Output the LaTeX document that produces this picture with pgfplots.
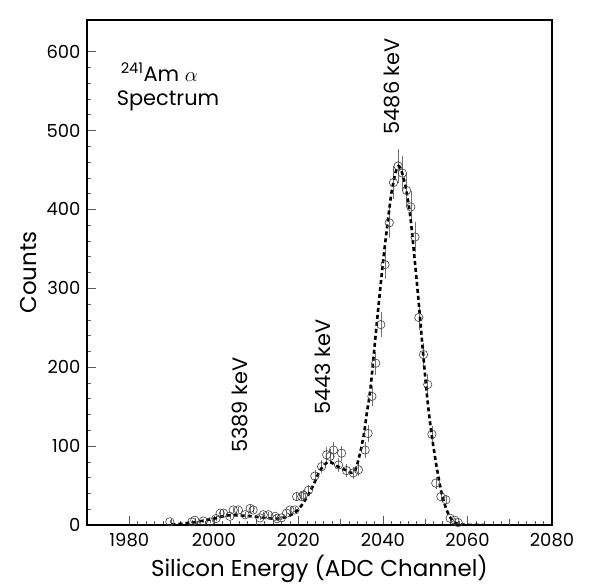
\documentclass[border=0pt]{standalone}
\usepackage{fontspec}
\setmainfont{Poppins}
\usepackage{pgfplots}
\pgfplotsset{compat=1.18}
\usepackage{pgfplotstable}

% measured points: channel, counts, sqrt(counts)
\pgfplotstableread{
x y e
1989.6 4 2.0
1994.8 4 2.0
1995.5 6 2.4
1997.5 5 2.2
1999.1 4 2.0
2000.5 8 2.8
2001.5 15 3.9
2002.3 15 3.9
2003.8 11 3.3
2004.6 19 4.4
2005.8 19 4.4
2007.4 13 3.6
2008.6 21 4.6
2009.3 19 4.4
2010.9 9 3.0
2011.7 13 3.6
2012.9 13 3.6
2014.5 11 3.3
2014.9 8 2.8
2016.0 9 3.0
2017.2 15 3.9
2018.0 19 4.4
2019.2 19 4.4
2019.6 36 6.0
2020.8 36 6.0
2021.2 38 6.2
2022.4 44 6.6
2023.9 62 7.9
2025.5 74 8.6
2026.7 89 9.4
2027.5 87 9.3
2028.3 95 9.7
2029.5 76 8.7
2030.2 91 9.5
2031.4 69 8.3
2033.0 66 8.1
2034.2 70 8.4
2035.8 95 9.7
2036.5 116 10.8
2037.4 163 12.8
2038.3 205 14.3
2039.5 254 15.9
2040.5 330 18.2
2041.5 383 19.6
2042.5 434 20.8
2043.6 455 21.3
2044.6 446 21.1
2045.6 424 20.6
2046.6 403 20.1
2047.6 365 19.1
2048.5 263 16.2
2049.6 216 14.7
2050.6 178 13.3
2051.6 115 10.7
2052.5 53 7.3
2053.7 36 6.0
2054.9 32 5.7
2055.9 8.5 2.9
2057.0 6 2.4
2057.8 3 1.7
}\datapts

% fitted line
\pgfplotstableread{
x y
1990 0.5
1993 2
1996 4
2000 8
2003 12
2006 12
2009 11
2012 9
2015 8
2017 10
2019 15
2020.5 23
2022 35
2023.5 50
2025 68
2026.5 78
2027.5 80
2029 75
2031 70
2032.5 66
2033.5 70
2034.6 91
2035.5 115
2036.2 142
2037 170
2038 225
2039 280
2040 332
2041 378
2042 420
2043 447
2043.7 455
2044.5 447
2045.5 425
2046.5 390
2047.5 337
2048.5 280
2049.5 218
2050.5 160
2051.5 116
2052.7 74
2053.9 40
2055 20
2056 9
2057 3
2058 1
2060 0
2064 0
}\fitcurve

\begin{document}
\begin{tikzpicture}
\begin{axis}[name=ax, scale only axis, width=465bp, height=505bp,
  xmin=1970, xmax=2080, ymin=0, ymax=640,
  xtick={1980,2000,...,2080}, ytick={0,100,...,600},
  minor x tick num=9, minor y tick num=4,
  extra x ticks={1990,2010,2030,2050,2070},
  extra x tick labels={},
  extra x tick style={major tick length=6bp},
  tick align=inside, tick pos=left,
  major tick length=9bp, minor tick length=4bp,
  axis line style={line width=1.2bp},
  tick style={black!65, line width=0.5bp},
  /pgf/number format/assume math mode=true,
  /pgf/number format/1000 sep={},
  tick label style={font=\fontsize{18}{21}\selectfont},
  xticklabel style={yshift=-5bp}, yticklabel style={xshift=-3bp},
  xlabel={Silicon Energy (ADC Channel)}, ylabel={Counts},
  label style={font=\fontsize{23}{26}\selectfont},
  xlabel style={yshift=-1bp}, ylabel style={yshift=3bp}]
\addplot[only marks, mark=o, mark size=4.2bp, black!75,
  mark options={line width=0.6bp},
  error bars/.cd, y dir=both, y explicit, error mark=none,
  error bar style={black!55, line width=0.5bp}]
  table[x=x, y=y, y error=e] {\datapts};
\addplot[black, line width=2.6bp, dash pattern=on 4bp off 3bp, smooth]
  table[x=x, y=y] {\fitcurve};
\node[rotate=90, font=\fontsize{21}{24}\selectfont] at (axis cs:2042.2,556) {5486 keV};
\node[rotate=90, font=\fontsize{21}{24}\selectfont] at (axis cs:2025.8,200) {5443 keV};
\node[rotate=90, font=\fontsize{21}{24}\selectfont] at (axis cs:2006.2,152) {5389 keV};
\node[align=left, anchor=west, font=\fontsize{21}{25}\selectfont, inner sep=0pt]
  at (axis cs:1977.0,555) {\hspace*{4bp}\textsuperscript{241}Am $\alpha$\\Spectrum};
\end{axis}
\pgfresetboundingbox
\path ([xshift=-87bp,yshift=-62bp]ax.south west) rectangle ([xshift=43bp,yshift=20bp]ax.north east);
\end{tikzpicture}
\end{document}
